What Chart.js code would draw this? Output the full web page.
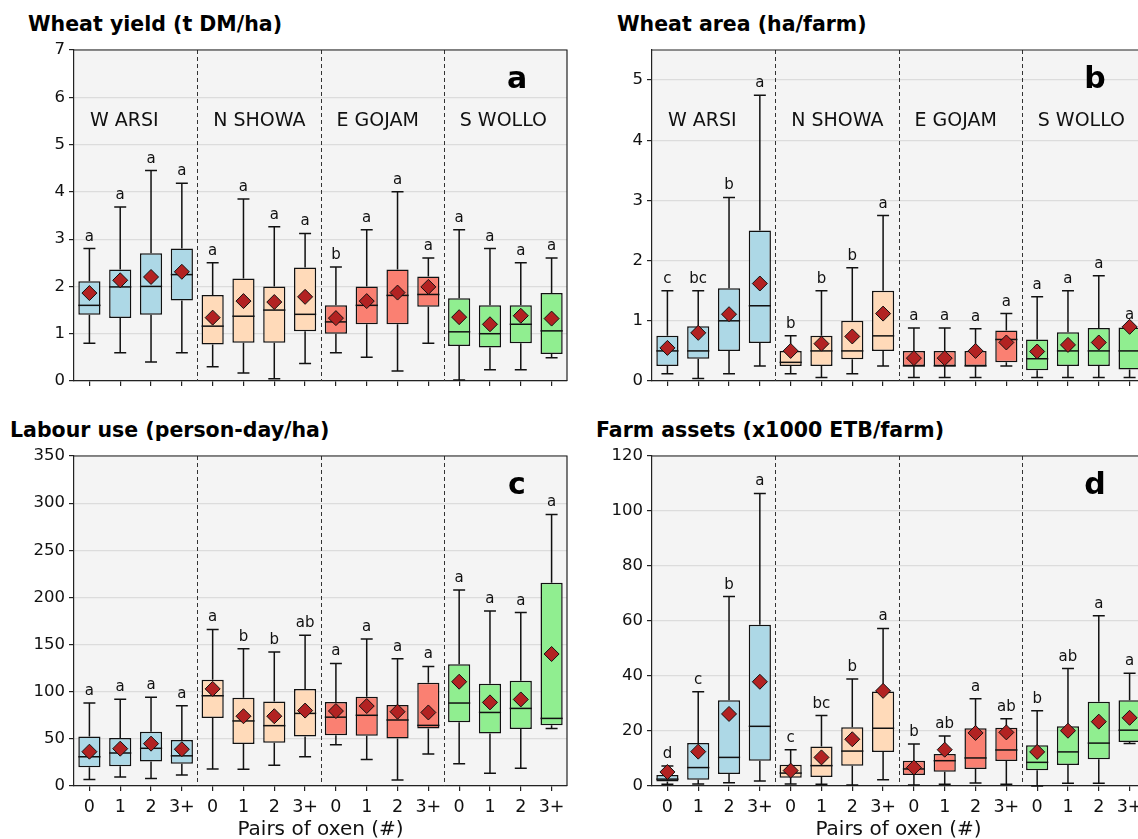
<!DOCTYPE html>
<html>
<head>
<meta charset="utf-8">
<script src="https://cdn.jsdelivr.net/npm/chart.js@4.4.0/dist/chart.umd.min.js"></script>
<style>
    html, body { margin: 0; padding: 0; background: #fff; overflow: hidden; width: 1138px; height: 839px; }
    .panel { position: absolute; }
    .panel-title { position: absolute; font: bold 20.5px "DejaVu Sans", sans-serif; color: #000; white-space: nowrap; }
</style>
</head>
<body>
<div class="panel-title" style="left:28px; top:12px;">Wheat yield (t DM/ha)</div>
<div class="panel-title" style="left:617px; top:12px;">Wheat area (ha/farm)</div>
<div class="panel-title" style="left:10px; top:418px;">Labour use (person-day/ha)</div>
<div class="panel-title" style="left:596px; top:418px;">Farm assets (x1000 ETB/farm)</div>

<div class="panel" style="left:0; top:0;"><canvas id="chartA" width="580" height="415"></canvas></div>
<div class="panel" style="left:578px; top:0;"><canvas id="chartB" width="580" height="415"></canvas></div>
<div class="panel" style="left:0; top:415px;"><canvas id="chartC" width="580" height="427"></canvas></div>
<div class="panel" style="left:578px; top:415px;"><canvas id="chartD" width="580" height="427"></canvas></div>

<script>
const regions = ['W ARSI', 'N SHOWA', 'E GOJAM', 'S WOLLO'];
const oxenPairs = ['0', '1', '2', '3+'];

// a - wheat yield (t DM/ha)
const yieldLow  = [0.80, 0.60, 0.40, 0.60, 0.30, 0.17, 0.05, 0.37, 0.60, 0.50, 0.21, 0.80, 0.02, 0.24, 0.24, 0.49];
const yieldQ1   = [1.40, 1.33, 1.40, 1.70, 0.77, 0.81, 0.81, 1.05, 1.00, 1.20, 1.20, 1.57, 0.74, 0.71, 0.80, 0.57];
const yieldMed  = [1.60, 1.99, 2.00, 2.25, 1.16, 1.37, 1.50, 1.41, 1.25, 1.60, 1.81, 1.83, 1.04, 1.00, 1.20, 1.06];
const yieldQ3   = [2.11, 2.36, 2.70, 2.80, 1.82, 2.17, 2.00, 2.40, 1.60, 2.00, 2.36, 2.21, 1.75, 1.60, 1.60, 1.86];
const yieldHigh = [2.80, 3.68, 4.45, 4.18, 2.50, 3.85, 3.26, 3.12, 2.41, 3.20, 4.00, 2.60, 3.20, 2.80, 2.50, 2.60];
const yieldMean = [1.86, 2.13, 2.20, 2.31, 1.34, 1.69, 1.67, 1.78, 1.33, 1.69, 1.87, 1.99, 1.35, 1.20, 1.38, 1.32];
const yieldLetters = ['a', 'a', 'a', 'a', 'a', 'a', 'a', 'a', 'b', 'a', 'a', 'a', 'a', 'a', 'a', 'a'];

// b - wheat area (ha/farm)
const areaLow  = [0.12, 0.04, 0.12, 0.25, 0.12, 0.06, 0.12, 0.25, 0.06, 0.06, 0.06, 0.25, 0.06, 0.06, 0.06, 0.06];
const areaQ1   = [0.25, 0.37, 0.50, 0.63, 0.25, 0.25, 0.36, 0.50, 0.25, 0.25, 0.25, 0.31, 0.18, 0.25, 0.25, 0.19];
const areaMed  = [0.50, 0.50, 1.00, 1.25, 0.31, 0.50, 0.50, 0.75, 0.25, 0.25, 0.25, 0.69, 0.37, 0.50, 0.50, 0.50];
const areaQ3   = [0.75, 0.91, 1.54, 2.50, 0.50, 0.75, 1.00, 1.50, 0.50, 0.50, 0.50, 0.84, 0.69, 0.81, 0.88, 0.89];
const areaHigh = [1.50, 1.50, 3.05, 4.75, 0.75, 1.50, 1.88, 2.75, 0.88, 0.88, 0.87, 1.12, 1.40, 1.50, 1.75, 0.90];
const areaMean = [0.55, 0.80, 1.11, 1.62, 0.50, 0.62, 0.74, 1.12, 0.38, 0.38, 0.50, 0.64, 0.49, 0.60, 0.64, 0.90];
const areaLetters = ['c', 'bc', 'b', 'a', 'b', 'b', 'b', 'a', 'a', 'a', 'a', 'a', 'a', 'a', 'a', 'a'];

// c - labour use (person-day/ha)
const labourLow  = [7, 9.5, 8, 11.7, 18, 17.7, 22, 31, 43.8, 28, 6.4, 34, 23.7, 13.4, 18.7, 61];
const labourQ1   = [19.8, 21, 26, 23.7, 72, 44.5, 46, 52.6, 53.7, 53.3, 50.5, 61, 67.5, 55.8, 60.4, 64.3];
const labourMed  = [31, 35, 40, 32, 95.7, 69, 64, 77, 73, 75, 70, 64.3, 88, 78, 82.3, 71.7];
const labourQ3   = [52.6, 51, 57.6, 48.7, 112.7, 93.6, 89.7, 102.8, 89, 94.7, 85.8, 109.5, 129, 108.4, 111.6, 215.5];
const labourHigh = [88, 92, 94, 85, 166, 145.5, 142, 160, 130, 155.8, 135, 126.8, 208, 185.5, 184, 288];
const labourMean = [36.4, 39.6, 44.9, 39, 103, 74, 74, 80, 79.5, 84.8, 78.8, 78, 110.6, 88.7, 91.8, 140];
const labourLetters = ['a', 'a', 'a', 'a', 'a', 'b', 'b', 'ab', 'a', 'a', 'a', 'a', 'a', 'a', 'a', 'a'];

// d - farm assets (x1000 ETB/farm)
const assetsLow  = [0.6, 0.7, 1.2, 1.8, 0.7, 0.6, 0.4, 2.3, 0.4, 0.6, 1.1, 0.6, 0, 1, 1, 15.5];
const assetsQ1   = [1.6, 2.3, 4.4, 9.2, 3.0, 3.3, 7.4, 12.4, 4.0, 5.2, 6.2, 9.1, 5.7, 7.6, 9.7, 16];
const assetsMed  = [2.5, 6.7, 10.4, 21.7, 4.7, 7.4, 12.7, 21, 6.2, 9.2, 10.2, 13.1, 8.6, 12.4, 15.6, 20.3];
const assetsQ3   = [4.0, 15.6, 31.2, 58.6, 7.75, 14.4, 21.4, 34.4, 9.2, 11.6, 21, 21.2, 14.8, 21.7, 30.6, 31.2];
const assetsHigh = [7.3, 34.3, 68.9, 106.4, 13.2, 25.6, 38.9, 57.3, 15.3, 18.2, 31.7, 24.5, 27.4, 42.7, 61.9, 41];
const assetsMean = [5.1, 12.5, 26.2, 37.9, 5.6, 10.4, 17, 34.6, 6.7, 13.2, 19.3, 19.5, 12.4, 20.1, 23.4, 24.8];
const assetsLetters = ['d', 'c', 'b', 'a', 'c', 'bc', 'b', 'a', 'b', 'ab', 'a', 'ab', 'b', 'ab', 'a', 'a'];

const regionColors = ['#add8e6', '#ffdab9', '#fa8072', '#90ee90'];
const categories = regions.flatMap(() => oxenPairs);
const FONT = '"DejaVu Sans", sans-serif';

// box plot extras: background, whiskers, medians, letters, region names
const boxExtras = {
    id: 'boxExtras',
    beforeDraw(chart) {
        const { ctx, chartArea: a } = chart;
        ctx.save();
        ctx.fillStyle = '#f4f4f4';
        ctx.fillRect(a.left, a.top, a.right - a.left, a.bottom - a.top);
        ctx.restore();
    },
    beforeDatasetsDraw(chart, args, opts) {
        const { ctx, chartArea: a, scales: { x, y } } = chart;
        const boxes = chart.getDatasetMeta(1).data;
        ctx.save();
        // group dividers
        ctx.strokeStyle = '#333';
        ctx.lineWidth = 1;
        ctx.setLineDash([4, 3]);
        [3.5, 7.5, 11.5].forEach(v => {
            const px = Math.round(x.getPixelForValue(v)) + 0.5;
            ctx.beginPath();
            ctx.moveTo(px, a.top);
            ctx.lineTo(px, a.bottom);
            ctx.stroke();
        });
        ctx.setLineDash([]);
        // whiskers + caps
        ctx.strokeStyle = '#111';
        ctx.lineWidth = 1.5;
        boxes.forEach((b, i) => {
            const cx = b.x;
            const cap = b.width * 0.27;
            const yl = y.getPixelForValue(opts.low[i]);
            const yh = y.getPixelForValue(opts.high[i]);
            ctx.beginPath();
            ctx.moveTo(cx, yl); ctx.lineTo(cx, y.getPixelForValue(opts.q1[i]));
            ctx.moveTo(cx, yh); ctx.lineTo(cx, y.getPixelForValue(opts.q3[i]));
            ctx.moveTo(cx - cap, yl); ctx.lineTo(cx + cap, yl);
            ctx.moveTo(cx - cap, yh); ctx.lineTo(cx + cap, yh);
            ctx.stroke();
        });
        ctx.restore();
    },
    afterDatasetDraw(chart, args, opts) {
        if (args.index !== 1) return;
        const { ctx, scales: { y } } = chart;
        ctx.save();
        ctx.strokeStyle = '#111';
        ctx.lineWidth = 1.5;
        args.meta.data.forEach((b, i) => {
            const ym = y.getPixelForValue(opts.med[i]);
            ctx.beginPath();
            ctx.moveTo(b.x - b.width / 2, ym);
            ctx.lineTo(b.x + b.width / 2, ym);
            ctx.stroke();
        });
        ctx.restore();
    },
    afterDraw(chart, args, opts) {
        const { ctx, chartArea: a, scales: { x, y } } = chart;
        ctx.save();
        // top and right spines
        ctx.strokeStyle = '#222';
        ctx.lineWidth = 1.2;
        ctx.beginPath();
        ctx.moveTo(a.left, a.top); ctx.lineTo(a.right, a.top); ctx.lineTo(a.right, a.bottom);
        ctx.stroke();
        // significance letters
        ctx.fillStyle = '#111';
        ctx.font = '15px ' + FONT;
        ctx.textAlign = 'center';
        ctx.textBaseline = 'alphabetic';
        opts.letters.forEach((t, i) => {
            ctx.fillText(t, x.getPixelForValue(i), y.getPixelForValue(opts.high[i]) - 8);
        });
        // region names
        if (opts.showRegions) {
            ctx.font = '19px ' + FONT;
            ctx.textAlign = 'left';
            ctx.textBaseline = 'middle';
            regions.forEach((r, g) => {
                ctx.fillText(r, x.getPixelForValue(4 * g - 0.5) + 16, a.top + 71);
            });
        }
        // panel tag
        ctx.font = 'bold 30px ' + FONT;
        ctx.textAlign = 'center';
        ctx.textBaseline = 'middle';
        ctx.fillStyle = '#000';
        ctx.fillText(opts.tag, a.left + 443, a.top + 30);
        ctx.restore();
    }
};

function makePanel(id, p) {
    const ctx = document.getElementById(id).getContext('2d');
    return new Chart(ctx, {
        data: {
            labels: categories,
            datasets: [
                {
                    type: 'line',
                    label: 'Mean',
                    data: p.mean,
                    showLine: false,
                    pointStyle: 'rectRot',
                    pointRadius: 7.5,
                    pointBackgroundColor: '#b22222',
                    pointBorderColor: '#111',
                    pointBorderWidth: 1
                },
                {
                    type: 'bar',
                    label: 'IQR',
                    data: p.q1.map((v, i) => [v, p.q3[i]]),
                    backgroundColor: categories.map((c, i) => regionColors[Math.floor(i / 4)]),
                    borderColor: '#111',
                    borderWidth: 1.5,
                    borderSkipped: false,
                    barPercentage: 0.72,
                    categoryPercentage: 1
                }
            ]
        },
        options: {
            responsive: false,
            animation: false,
            layout: { padding: { top: p.padTop, right: 13, left: 0, bottom: 0 } },
            plugins: {
                legend: { display: false },
                tooltip: { enabled: false },
                boxExtras: {
                    low: p.low, q1: p.q1, med: p.med, q3: p.q3, high: p.high,
                    letters: p.letters, tag: p.tag, showRegions: p.showRegions
                }
            },
            scales: {
                x: {
                    type: 'category',
                    offset: true,
                    grid: { offset: false, drawOnChartArea: false, drawTicks: true, tickLength: 5, tickColor: '#222', lineWidth: 1.2 },
                    border: { display: true, color: '#222', width: 1.2 },
                    ticks: {
                        autoSkip: false, maxRotation: 0, padding: 6,
                        color: '#111', font: { family: FONT, size: 17.5 },
                        callback: (v, i) => p.showXLabels ? categories[i] : ''
                    },
                    title: {
                        display: p.showXLabels, text: 'Pairs of oxen (#)',
                        color: '#111', font: { family: FONT, size: 20 }, padding: { top: 0, bottom: 0 }
                    },
                    afterFit: s => { s.height = p.showXLabels ? 56 : 34; }
                },
                y: {
                    min: 0, max: p.yMax,
                    grid: { color: '#dcdcdc', lineWidth: 1.2, tickColor: '#222', tickLength: 5 },
                    border: { display: true, color: '#222', width: 1.2 },
                    ticks: { stepSize: p.yStep, includeBounds: false, padding: 4, color: '#111', font: { family: FONT, size: 16.5 } },
                    afterFit: s => { s.width = 74; }
                }
            }
        },
        plugins: [boxExtras]
    });
}

makePanel('chartA', {
    low: yieldLow, q1: yieldQ1, med: yieldMed, q3: yieldQ3, high: yieldHigh, mean: yieldMean, letters: yieldLetters,
    yMax: 7, yStep: 1, tag: 'a', showRegions: true, showXLabels: false, padTop: 50
});
makePanel('chartB', {
    low: areaLow, q1: areaQ1, med: areaMed, q3: areaQ3, high: areaHigh, mean: areaMean, letters: areaLetters,
    yMax: 5.5, yStep: 1, tag: 'b', showRegions: true, showXLabels: false, padTop: 50
});
makePanel('chartC', {
    low: labourLow, q1: labourQ1, med: labourMed, q3: labourQ3, high: labourHigh, mean: labourMean, letters: labourLetters,
    yMax: 350, yStep: 50, tag: 'c', showRegions: false, showXLabels: true, padTop: 41
});
makePanel('chartD', {
    low: assetsLow, q1: assetsQ1, med: assetsMed, q3: assetsQ3, high: assetsHigh, mean: assetsMean, letters: assetsLetters,
    yMax: 120, yStep: 20, tag: 'd', showRegions: false, showXLabels: true, padTop: 41
});
</script>
</body>
</html>
